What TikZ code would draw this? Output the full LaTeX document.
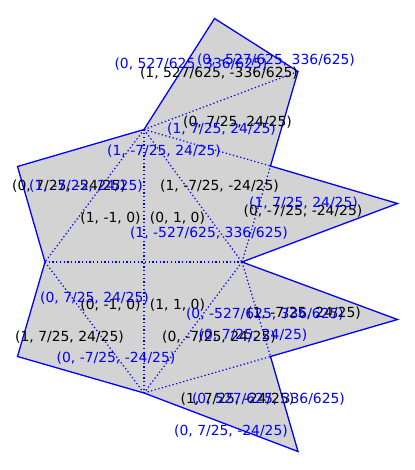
\documentclass[tikz,border=0pt]{standalone}
\usepackage{fontspec}
\setmainfont{DejaVu Sans}
\begin{document}
\begin{tikzpicture}[x=1pt,y=-1pt,
  lbl/.style={inner sep=0pt,font=\fontsize{13.9pt}{16pt}\selectfont,anchor=center,text height=10.6pt,text depth=2.6pt,yshift=-1pt},
  blk/.style={lbl,text=black},
  blu/.style={lbl,text=blue},
  outline/.style={draw=blue,line width=1.3pt,line join=miter,fill={rgb,255:red,211;green,211;blue,211}},
  fold/.style={draw=blue,line width=1.2pt,dash pattern=on 1.3pt off 2.4pt}]
\useasboundingbox (0,0) rectangle (414,470);
\coordinate (a) at (214.5,18.5);
\coordinate (b) at (298,71.5);
\coordinate (c) at (270.5,166);
\coordinate (d) at (397.5,203.5);
\coordinate (e) at (242,262);
\coordinate (f) at (397.5,319.5);
\coordinate (g) at (270.5,356.5);
\coordinate (h) at (298,451.5);
\coordinate (i) at (144,393);
\coordinate (j) at (17.5,356.5);
\coordinate (k) at (45,262);
\coordinate (l) at (17.5,166.5);
\coordinate (m) at (144,129.5);
\path[outline] (a)--(b)--(c)--(d)--(e)--(f)--(g)--(h)--(i)--(j)--(k)--(l)--(m)--cycle;
\draw[fold] (m)--(b);
\draw[fold] (m)--(c);
\draw[fold] (m)--(e);
\draw[fold] (m)--(i);
\draw[fold] (m)--(k);
\draw[fold] (k)--(e);
\draw[fold] (k)--(i);
\draw[fold] (e)--(i);
\draw[fold] (e)--(c);
\draw[fold] (e)--(g);
\draw[fold] (i)--(g);
\node[blk] (t1) at (219,72.5) {(1, 527/625, -336/625)};
\node[blk] (t2) at (237.5,122) {(0, 7/25, 24/25)};
\node[blk] (t3) at (69,185) {(0, 7/25, -24/25)};
\node[blk] (t4) at (219.5,185) {(1, -7/25, -24/25)};
\node[blk] (t5) at (110.5,217) {(1, -1, 0)};
\node[blk] (t6) at (177.5,217) {(0, 1, 0)};
\node[blk] (t7) at (303,210) {(0, -7/25, -24/25)};
\node[blk] (t8) at (110.5,304) {(0, -1, 0)};
\node[blk] (t9) at (177.5,304) {(1, 1, 0)};
\node[blk] (t10) at (304,312) {(1, -7/25, 24/25)};
\node[blk] (t11) at (69.5,336) {(1, 7/25, 24/25)};
\node[blk] (t12) at (219,336) {(0, -7/25, 24/25)};
\node[blk] (t13) at (237.5,398) {(1, 7/25, -24/25)};
\node[blu] (u1) at (191,64) {(0, 527/625, 336/625)};
\node[blu] (u2) at (276,60) {(0, -527/625, 336/625)};
\node[blu] (u3) at (221.5,129) {(1, 7/25, 24/25)};
\node[blu] (u4) at (164,151) {(1, -7/25, 24/25)};
\node[blu] (u5) at (86,185) {(1, -7/25, 24/25)};
\node[blu] (u6) at (303.5,202) {(1, 7/25, 24/25)};
\node[blu] (u7) at (209,232) {(1, -527/625, 336/625)};
\node[blu] (u8) at (94.5,297) {(0, 7/25, 24/25)};
\node[blu] (u9) at (265,313) {(0, -527/625, 336/625)};
\node[blu] (u10) at (253,334) {(0, 7/25, 24/25)};
\node[blu] (u11) at (116,357) {(0, -7/25, -24/25)};
\node[blu] (u12) at (268.5,398) {(0, 527/625, 336/625)};
\node[blu] (u13) at (231,430) {(0, 7/25, -24/25)};
\end{tikzpicture}
\end{document}
